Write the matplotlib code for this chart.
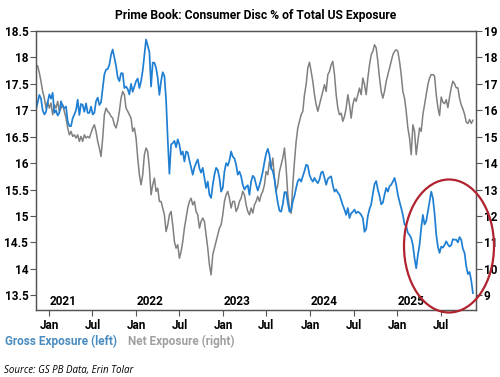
import matplotlib
matplotlib.use("Agg")
import matplotlib.pyplot as plt
import matplotlib.dates as mdates
from matplotlib.patches import Ellipse
from matplotlib.ticker import FuncFormatter
import numpy as np
import pandas as pd

# weekly observations, first week ending 2020-11-06
start_date = "2020-11-06"

# Gross exposure, % (left axis)
gross = [
    17.01, 17.15, 17.29, 17.22, 17.0, 16.92, 16.97, 17.15, 17.3, 17.22,
    17.33, 16.95, 17.0, 16.9, 16.95, 17.17, 17.08, 17.04, 17.07, 16.79,
    16.7, 16.7, 16.85, 16.92, 17.0, 17.2, 16.91, 17.12, 17.1, 16.97,
    17.13, 16.95, 16.95, 17.07, 16.92, 16.95, 17.17, 17.24, 17.1, 17.15,
    17.42, 17.68, 17.77, 17.78, 17.86, 18.05, 18.15, 18.0, 17.84, 17.62,
    17.55, 17.7, 17.7, 17.42, 17.45, 17.4, 17.3, 17.5, 17.35,
    17.45, 17.55, 17.6, 17.42, 17.55, 17.75, 18.05, 18.34, 18.22, 18.1,
    17.45, 17.9, 17.9, 17.8, 17.61, 17.29, 17.55, 17.72, 17.65, 17.2,
    16.45, 15.8, 16.35, 16.38, 16.42, 16.3, 16.45, 16.35, 16.16, 16.22,
    16.03, 16.22, 16.2, 16.05, 15.92, 15.78, 15.92, 16.0, 16.07, 15.9,
    15.82, 15.91, 15.72, 15.53, 15.65, 15.4, 15.34, 15.59, 15.78, 15.91,
    15.87, 15.72, 15.46, 15.53, 15.84, 16.0, 15.95, 16.05, 16.22, 16.12,
    16.09, 15.97, 15.78, 15.84, 15.75, 15.59, 15.5, 15.55, 15.58, 15.4,
    15.65, 15.76, 15.72, 15.59, 15.48, 15.58, 15.7, 15.84, 16.02, 16.18,
    16.27, 16.15, 15.9, 15.85, 15.7, 15.45, 15.25, 15.1, 15.08, 15.22,
    15.45, 15.45, 15.25, 15.08, 15.1, 15.28, 15.38, 15.53, 15.66, 15.7,
    15.65, 15.75, 15.85, 15.97, 15.95, 15.78, 15.7, 15.65, 15.72, 15.66,
    15.62, 15.69, 15.82, 15.84, 15.72, 15.59, 15.7, 15.73, 15.75, 15.58,
    15.46, 15.5, 15.44, 15.4, 15.3, 15.2, 15.12, 15.02, 15.15, 14.96,
    15.05, 15.08, 15.12, 15.05, 15.08, 15.06, 15.02, 14.96, 14.7, 14.75,
    15.0, 15.13, 15.22, 15.42, 15.6, 15.66, 15.5, 15.38, 15.22, 15.25,
    15.4, 15.53, 15.46, 15.56, 15.59, 15.65, 15.72, 15.59, 15.4, 15.27,
    15.15, 15.02, 14.84, 14.81, 14.68, 14.64, 14.58, 14.45, 14.2, 14.01,
    14.26, 14.45, 14.77, 15.02, 14.84, 14.9, 15.08, 15.27, 15.46, 15.34,
    15.05, 14.65, 14.42, 14.3, 14.42, 14.4, 14.45, 14.52, 14.46, 14.42,
    14.45, 14.56, 14.55, 14.55, 14.5, 14.6, 14.55, 14.38, 14.3, 14.05,
    13.9, 13.94, 13.78, 13.54,
]

# Net exposure, % (right axis)
net = [
    17.7, 17.68, 17.42, 17.09, 16.71, 16.46, 16.08, 16.34, 16.08, 16.27,
    15.83, 16.21, 16.08, 16.34, 15.96, 16.08, 16.21, 15.96, 15.7, 15.33,
    15.07, 15.2, 15.01, 15.07, 14.95, 15.07, 14.82, 15.01, 14.82, 15.07,
    14.95, 15.01, 14.95, 15.14, 15.33, 15.45, 15.2, 14.82, 14.57, 14.25,
    14.95, 15.83, 16.08, 15.96, 15.89, 15.77, 15.7, 15.45, 15.33, 15.58,
    15.96, 16.46, 16.71, 16.59, 16.08, 15.96, 15.83, 15.7, 15.2,
    15.33, 14.95, 14.19, 13.56, 13.18, 13.56, 14.32, 14.57, 14.44, 13.81,
    12.8, 13.18, 13.43, 12.93, 13.05, 12.55, 12.55, 12.3, 12.04, 11.41,
    11.66, 12.04, 12.17, 11.66, 11.03, 10.78, 10.91, 10.4, 10.65, 11.03,
    11.54, 11.92, 12.3, 12.55, 12.67, 12.42, 12.55, 12.17, 12.04, 11.54,
    11.79, 11.92, 11.79, 11.29, 10.78, 10.15, 9.77, 10.53, 10.78, 11.03,
    11.29, 11.54, 11.66, 12.04, 12.55, 12.8, 12.93, 12.67, 12.3, 12.55,
    12.55, 12.17, 12.3, 12.55, 12.67, 12.93, 12.8, 12.42, 12.17, 12.04,
    12.3, 12.11, 12.42, 12.55, 12.74, 12.55, 12.8, 12.93, 13.18, 13.68,
    13.56, 14.06, 13.81, 14.19, 13.43, 12.93, 13.18, 13.68, 13.94, 14.19,
    14.57, 13.81, 12.8, 12.3, 12.1, 13.2, 14.06, 14.82, 15.33, 15.58,
    15.83, 15.96, 16.59, 16.97, 17.6, 17.82, 17.47, 17.09, 16.59, 16.21,
    15.96, 16.21, 16.46, 16.71, 16.97, 16.71, 17.35, 17.47, 17.72, 17.85,
    17.35, 16.59, 16.08, 15.83, 15.89, 15.58, 15.77, 16.08, 16.59, 16.21,
    15.7, 16.21, 16.46, 16.34, 16.59, 16.84, 16.59, 17.22, 16.97, 16.59,
    17.22, 17.72, 18.1, 18.23, 18.48, 18.36, 17.85, 17.22, 16.71, 16.46,
    16.71, 17.09, 17.35, 17.6, 17.85, 18.1, 18.23, 18.29, 18.23, 17.85,
    17.35, 16.71, 16.46, 15.96, 15.33, 14.95, 14.32, 15.45, 15.2, 14.32,
    14.82, 15.33, 15.2, 15.83, 16.21, 16.59, 16.97, 17.22, 17.35, 17.35,
    17.3, 16.6, 16.1, 15.8, 16.5, 16.3, 16.25, 16.4, 16.1, 16.5,
    16.85, 17.1, 17.0, 16.85, 16.85, 16.45, 16.2, 16.05, 15.85, 15.55,
    15.5, 15.65, 15.5, 15.62,
]

years = ["2021", "2022", "2023", "2024", "2025"]
left_ticks = [13.5, 14, 14.5, 15, 15.5, 16, 16.5, 17, 17.5, 18, 18.5]
right_ticks = [9, 10, 11, 12, 13, 14, 15, 16, 17, 18, 19]

BLUE = "#1f7fd2"
GRAY = "#808080"
FRAME = "#555555"

plt.rcParams["font.family"] = ["Roboto", "DejaVu Sans"]
plt.rcParams["font.weight"] = "bold"

dates = pd.date_range(start_date, periods=len(gross), freq="7D")

fig = plt.figure(figsize=(5, 3.77), dpi=100)
ax = fig.add_axes([0.072, 0.1777, 0.88, 0.7401])
ax2 = ax.twinx()

ax2.plot(dates, net, color=GRAY, lw=1.1)
ax.plot(dates, gross, color=BLUE, lw=1.25)
ax.set_zorder(ax2.get_zorder() + 1)
ax.patch.set_visible(False)

ax.set_xlim(mdates.date2num(np.datetime64("2020-11-06")),
            mdates.date2num(np.datetime64("2025-11-27")))
ax.set_ylim(13.22, 18.5)
ax2.set_ylim(8.44, 19)
ax.set_yticks(left_ticks)
ax2.set_yticks(right_ticks)
ax.yaxis.set_major_formatter(FuncFormatter(lambda v, p: f"{v:g}"))

ax.xaxis.set_major_locator(mdates.MonthLocator(bymonth=[1, 7]))
ax.xaxis.set_major_formatter(mdates.DateFormatter("%b"))

for a in (ax, ax2):
    for s in a.spines.values():
        s.set_color(FRAME)
        s.set_linewidth(0.9)
    a.tick_params(axis="y", direction="out", length=4.5, width=0.8,
                  color=FRAME, labelsize=8.5, pad=1)
ax.tick_params(axis="x", direction="out", length=4.5, width=0.8,
               color=FRAME, labelsize=8.5, pad=2)

# year labels sit just inside the bottom of the plot, after each January tick
for y in years:
    xpos = mdates.date2num(np.datetime64(f"{y}-02-28"))
    ax.text(xpos, 0.03, y, transform=ax.get_xaxis_transform(),
            ha="center", va="center", fontsize=8.5, fontweight="bold", zorder=5)

fig.text(0.512, 1 - 16 / 377, "Prime Book: Consumer Disc % of Total US Exposure",
         ha="center", va="center", fontsize=8.7, fontweight="bold")
fig.text(5 / 500, 1 - 341 / 377, "Gross Exposure (left)", color="#4a8cc0",
         ha="left", va="center", fontsize=8.5, fontweight="bold")
fig.text(128 / 500, 1 - 341 / 377, "Net Exposure (right)", color="#a0a0a0",
         ha="left", va="center", fontsize=8.5, fontweight="bold")
fig.text(4 / 500, 1 - 370 / 377, "Source: GS PB Data, Erin Tolar",
         ha="left", va="center", fontsize=7, fontweight="normal",
         fontstyle="italic", family=["Open Sans", "DejaVu Sans"])

circle = Ellipse((449 / 500, 1 - 246 / 377), 90 / 500, 133 / 377,
                 transform=fig.transFigure, fill=False, edgecolor="#b0232e",
                 lw=1.6, clip_on=False, zorder=10)
fig.add_artist(circle)

fig.savefig("out.png", dpi=100)
